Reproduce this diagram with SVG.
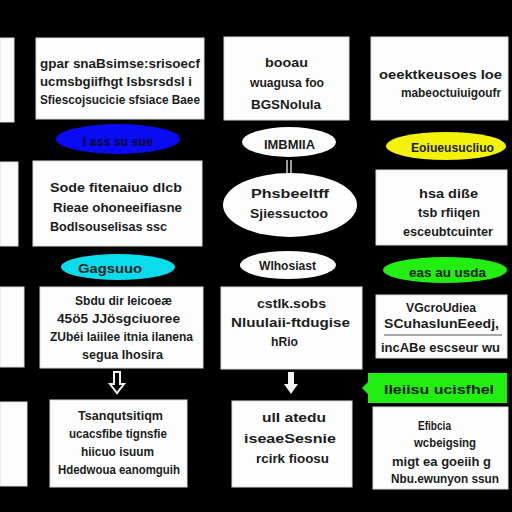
<svg xmlns="http://www.w3.org/2000/svg" width="512" height="512" viewBox="0 0 512 512">
<style>
.box{fill:#fdfdfd;stroke:#dcdcdc;stroke-width:1}
.t{font-family:"Liberation Sans","DejaVu Sans",sans-serif;font-weight:bold;font-size:13px;fill:#1c1c1c;dominant-baseline:central}
.c{stroke:#cfcfcf;stroke-width:1.5;fill:none}
</style>
<rect width="512" height="512" fill="#000"/>
<g id="connectors">
<line class="c" x1="287" y1="160" x2="287" y2="173"/>
<line class="c" x1="291" y1="160" x2="291" y2="173"/>
<path d="M114 372 H120 V384 H124 L117 393 L110 384 H114 Z" fill="none" stroke="#f2f2f2" stroke-width="2"/>
<path d="M288 372 H294 V384 H298 L291 394 L284 384 H288 Z" fill="#f2f2f2"/>
</g>
<g id="p1"><rect class="box" x="0" y="38" width="14" height="84"/></g>
<g id="p3"><rect class="box" x="0" y="162" width="18" height="84"/></g>
<g id="p5"><rect class="box" x="0" y="287" width="24" height="80"/></g>
<g id="p6"><rect class="box" x="0" y="402" width="27" height="84"/></g>
<g id="boxA"><rect class="box" x="36" y="38" width="168" height="81"/>
<text class="t" x="40" y="63" textLength="160" lengthAdjust="spacingAndGlyphs">gpar snaBsimse:srisoecf</text>
<text class="t" x="40" y="81" textLength="152" lengthAdjust="spacingAndGlyphs">ucmsbgiifhgt Isbsrsdsl i</text>
<text class="t" x="40" y="99" textLength="160" lengthAdjust="spacingAndGlyphs">Sfiescojsucicie sfsiace Baee</text></g>
<g id="boxB"><rect class="box" x="224" y="37" width="125" height="83"/>
<text class="t" x="265" y="62" textLength="43" lengthAdjust="spacingAndGlyphs">booau</text>
<text class="t" x="250" y="82" textLength="74" lengthAdjust="spacingAndGlyphs">wuagusa  foo</text>
<text class="t" x="251" y="104" textLength="70" lengthAdjust="spacingAndGlyphs">BGSNolula</text></g>
<g id="boxC"><rect class="box" x="371" y="37" width="137" height="83"/>
<text class="t" x="379" y="74" textLength="123" lengthAdjust="spacingAndGlyphs">oeektkeusoes Ioe</text>
<text class="t" x="401" y="92" textLength="100" lengthAdjust="spacingAndGlyphs">mabeoctuiuigoufr</text></g>
<g id="e1"><ellipse cx="118" cy="139" rx="62" ry="15" fill="#0a0af5"/>
<text class="t" x="83" y="141" textLength="70" lengthAdjust="spacingAndGlyphs" style="fill:#0a0a30">I ass su sue</text></g>
<g id="e2"><ellipse cx="289" cy="142" rx="47" ry="15" fill="#fdfdfd"/>
<text class="t" x="264" y="144" textLength="51" lengthAdjust="spacingAndGlyphs">IMBMIIA</text></g>
<g id="e3"><ellipse cx="446" cy="146" rx="60" ry="14" fill="#f2f20a"/>
<text class="t" x="411" y="147" textLength="83" lengthAdjust="spacingAndGlyphs">Eoiueusucliuo</text></g>
<g id="boxD"><rect class="box" x="33" y="161" width="169" height="85"/>
<text class="t" x="50" y="187" textLength="132" lengthAdjust="spacingAndGlyphs">Sode fitenaiuo dlcb</text>
<text class="t" x="53" y="207" textLength="129" lengthAdjust="spacingAndGlyphs">Rieae ohoneeifiasne</text>
<text class="t" x="50" y="226" textLength="117" lengthAdjust="spacingAndGlyphs">Bodlsouselisas ssc</text></g>
<g id="e4"><ellipse cx="290" cy="205" rx="67" ry="32" fill="#fdfdfd"/>
<text class="t" x="251" y="193" textLength="78" lengthAdjust="spacingAndGlyphs">Phsbeeltff</text>
<text class="t" x="250" y="213" textLength="78" lengthAdjust="spacingAndGlyphs">Sjiessuctoo</text></g>
<g id="boxE"><rect class="box" x="376" y="170" width="131" height="75"/>
<text class="t" x="419" y="193" textLength="59" lengthAdjust="spacingAndGlyphs">hsa diße</text>
<text class="t" x="418" y="212" textLength="62" lengthAdjust="spacingAndGlyphs">tsb rfiiqen</text>
<text class="t" x="403" y="231" textLength="90" lengthAdjust="spacingAndGlyphs">esceubtcuinter</text></g>
<g id="e5"><ellipse cx="118" cy="267" rx="57" ry="13" fill="#0adcec"/>
<text class="t" x="78" y="268" textLength="64" lengthAdjust="spacingAndGlyphs" style="fill:#0a2020">Gagsuuo</text></g>
<g id="e6"><ellipse cx="288" cy="265" rx="48" ry="14" fill="#fdfdfd"/>
<text class="t" x="259" y="265" textLength="57" lengthAdjust="spacingAndGlyphs">Wlhosiast</text></g>
<g id="e7"><ellipse cx="445" cy="270" rx="62" ry="13" fill="#22ee11"/>
<text class="t" x="409" y="272" textLength="77" lengthAdjust="spacingAndGlyphs" style="fill:#102010">eas au usda</text></g>
<g id="boxF"><rect class="box" x="40" y="287" width="163" height="81"/>
<text class="t" x="75" y="300" textLength="97" lengthAdjust="spacingAndGlyphs">Sbdu dir Ieicoeæ</text>
<text class="t" x="57" y="318" textLength="123" lengthAdjust="spacingAndGlyphs">45ö5 JJösgciuoree</text>
<text class="t" x="50" y="336" textLength="143" lengthAdjust="spacingAndGlyphs">ZUbéi laiilee itnia ilanena</text>
<text class="t" x="82" y="354" textLength="81" lengthAdjust="spacingAndGlyphs">segua Ihosira</text></g>
<g id="boxG"><rect class="box" x="221" y="287" width="141" height="82"/>
<text class="t" x="257" y="303" textLength="69" lengthAdjust="spacingAndGlyphs">cstlk.sobs</text>
<text class="t" x="231" y="322" textLength="119" lengthAdjust="spacingAndGlyphs">Nluulaii-ftdugise</text>
<text class="t" x="271" y="341" textLength="27" lengthAdjust="spacingAndGlyphs">hRio</text></g>
<g id="boxH"><rect class="box" x="376" y="295" width="131" height="63"/>
<text class="t" x="406" y="307" textLength="70" lengthAdjust="spacingAndGlyphs">VGcroUdiea</text>
<text class="t" x="384" y="323" textLength="115" lengthAdjust="spacingAndGlyphs">SCuhaslunEeedj,</text>
<line x1="384" y1="335" x2="502" y2="335" stroke="#555" stroke-width="1"/>
<text class="t" x="381" y="347" textLength="119" lengthAdjust="spacingAndGlyphs">incABe escseur wu</text></g>
<g id="label"><path d="M368 373 H507 V403 H368 V394 L362 388 L368 382 Z" fill="#22ee11"/>
<text class="t" x="384" y="389" textLength="110" lengthAdjust="spacingAndGlyphs" style="fill:#102010">IIeiisu ucisfhel</text></g>
<g id="boxI"><rect class="box" x="50" y="400" width="137" height="87"/>
<text class="t" x="78" y="415" textLength="85" lengthAdjust="spacingAndGlyphs">Tsanqutsitiqm</text>
<text class="t" x="69" y="433" textLength="98" lengthAdjust="spacingAndGlyphs">ucacsfibe tignsfie</text>
<text class="t" x="81" y="451" textLength="73" lengthAdjust="spacingAndGlyphs">hiicuo isuum</text>
<text class="t" x="58" y="469" textLength="122" lengthAdjust="spacingAndGlyphs">Hdedwoua eanomguih</text></g>
<g id="boxJ"><rect class="box" x="232" y="401" width="120" height="86"/>
<text class="t" x="262" y="417" textLength="64" lengthAdjust="spacingAndGlyphs">ulI atedu</text>
<text class="t" x="244" y="438" textLength="92" lengthAdjust="spacingAndGlyphs">iseaeSesnie</text>
<text class="t" x="256" y="458" textLength="73" lengthAdjust="spacingAndGlyphs">rcirk fioosu</text></g>
<g id="boxK"><rect class="box" x="373" y="407" width="135" height="82"/>
<text class="t" x="418" y="425" textLength="33" lengthAdjust="spacingAndGlyphs">Efibcia</text>
<text class="t" x="414" y="442" textLength="62" lengthAdjust="spacingAndGlyphs">wcbeigsing</text>
<text class="t" x="392" y="461" textLength="99" lengthAdjust="spacingAndGlyphs">migt ea  goeiih g</text>
<text class="t" x="391" y="478" textLength="108" lengthAdjust="spacingAndGlyphs">Nbu.ewunyon ssun</text></g>
</svg>
